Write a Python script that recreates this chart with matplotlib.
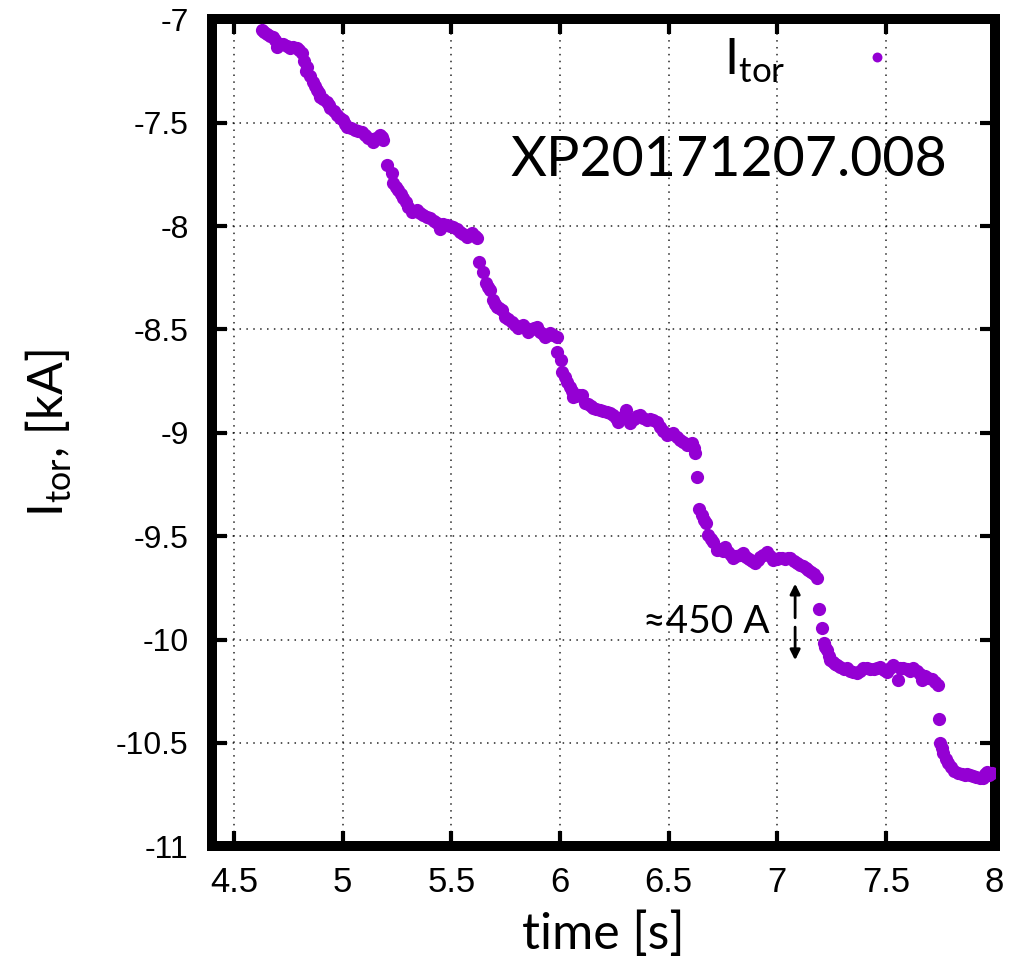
import matplotlib
matplotlib.use("Agg")
import matplotlib.pyplot as plt
from matplotlib import font_manager

# ---------------- data ----------------
time_s = [
    4.627, 4.640, 4.650, 4.665, 4.681, 4.690, 4.699, 4.712, 4.727, 4.742, 4.758, 4.773, 4.789, 4.800,
    4.812, 4.822, 4.831, 4.837, 4.850, 4.865, 4.873, 4.881, 4.889, 4.896, 4.910, 4.927, 4.935, 4.942,
    4.958, 4.973, 4.988, 5.003, 5.011, 5.019, 5.038, 5.057, 5.072, 5.088, 5.103, 5.118, 5.130, 5.141,
    5.155, 5.172, 5.180, 5.187,
    5.205, 5.226, 5.233, 5.245, 5.256, 5.268, 5.279, 5.290, 5.302, 5.318, 5.330, 5.341, 5.356, 5.371,
    5.386, 5.402, 5.418, 5.433, 5.448, 5.463, 5.478, 5.494, 5.509, 5.525, 5.540, 5.555, 5.571, 5.583,
    5.594, 5.607, 5.620,
    5.629, 5.647, 5.660, 5.670, 5.678, 5.691, 5.700, 5.709, 5.720, 5.732, 5.747, 5.762, 5.778, 5.793,
    5.808, 5.820, 5.831, 5.843, 5.854, 5.870, 5.882, 5.893, 5.908, 5.920, 5.931, 5.943, 5.954, 5.970,
    5.985,
    5.988, 6.003, 6.011, 6.021, 6.031, 6.046, 6.055, 6.061, 6.075, 6.088, 6.100, 6.115, 6.130, 6.142,
    6.153, 6.168, 6.184, 6.200, 6.215, 6.230, 6.246, 6.258, 6.269, 6.285, 6.304, 6.322, 6.340, 6.355,
    6.368, 6.384, 6.399, 6.415, 6.430, 6.445, 6.460, 6.475, 6.491, 6.507, 6.522, 6.537, 6.552, 6.568,
    6.583, 6.595, 6.606, 6.615, 6.622,
    6.632, 6.641, 6.652, 6.662, 6.672, 6.683, 6.695, 6.706, 6.721, 6.735, 6.748, 6.760, 6.775, 6.787,
    6.798, 6.812, 6.830, 6.844, 6.858, 6.872, 6.885, 6.898, 6.910, 6.921, 6.936, 6.951, 6.966, 6.982,
    6.998, 7.010, 7.020, 7.035, 7.048, 7.059, 7.075, 7.090, 7.105, 7.118, 7.130, 7.143, 7.155, 7.168,
    7.182,
    7.194, 7.205, 7.213, 7.220, 7.228, 7.236, 7.243, 7.255, 7.266, 7.274, 7.290, 7.305, 7.320, 7.335,
    7.350, 7.366, 7.381, 7.396, 7.412, 7.427, 7.443, 7.458, 7.473, 7.489, 7.504, 7.519, 7.534, 7.557,
    7.565, 7.580, 7.595, 7.611, 7.626, 7.641, 7.656, 7.665, 7.680, 7.695, 7.710, 7.726, 7.741,
    7.746, 7.749, 7.757, 7.764, 7.775, 7.787, 7.800, 7.815, 7.833, 7.848, 7.862, 7.875, 7.887, 7.900,
    7.915, 7.933, 7.945, 7.955, 7.964, 7.975, 7.990,
]
itor_kA = [
    -7.051, -7.062, -7.071, -7.078, -7.084, -7.100, -7.132, -7.120, -7.119, -7.128, -7.140, -7.135, -7.140, -7.150,
    -7.164, -7.200, -7.248, -7.229, -7.275, -7.301, -7.320, -7.342, -7.355, -7.374, -7.385, -7.398, -7.412, -7.430,
    -7.445, -7.462, -7.475, -7.487, -7.505, -7.519, -7.525, -7.535, -7.540, -7.543, -7.560, -7.575, -7.580, -7.592,
    -7.575, -7.559, -7.570, -7.583,
    -7.704, -7.745, -7.793, -7.810, -7.825, -7.845, -7.866, -7.885, -7.906, -7.930, -7.925, -7.922, -7.935, -7.946,
    -7.955, -7.962, -7.975, -7.986, -8.015, -7.990, -7.995, -8.000, -8.003, -8.015, -8.027, -8.040, -8.051, -8.045,
    -8.035, -8.048, -8.059,
    -8.172, -8.221, -8.277, -8.295, -8.309, -8.358, -8.375, -8.390, -8.398, -8.406, -8.438, -8.450, -8.463, -8.480,
    -8.494, -8.488, -8.478, -8.495, -8.511, -8.500, -8.492, -8.487, -8.511, -8.520, -8.535, -8.525, -8.519, -8.528,
    -8.535,
    -8.608, -8.648, -8.704, -8.730, -8.753, -8.777, -8.800, -8.825, -8.822, -8.815, -8.817, -8.857, -8.862, -8.872,
    -8.881, -8.885, -8.890, -8.895, -8.898, -8.905, -8.914, -8.930, -8.946, -8.925, -8.890, -8.954, -8.935, -8.920,
    -8.914, -8.928, -8.938, -8.935, -8.938, -8.950, -8.970, -8.990, -9.011, -9.005, -9.002, -9.020, -9.035, -9.045,
    -9.059, -9.055, -9.051, -9.075, -9.099,
    -9.212, -9.370, -9.398, -9.420, -9.438, -9.494, -9.512, -9.527, -9.567, -9.560, -9.570, -9.551, -9.575, -9.592,
    -9.607, -9.595, -9.590, -9.583, -9.600, -9.612, -9.620, -9.631, -9.615, -9.599, -9.590, -9.575, -9.598, -9.615,
    -9.612, -9.605, -9.607, -9.612, -9.605, -9.607, -9.620, -9.630, -9.640, -9.645, -9.655, -9.664, -9.672, -9.685,
    -9.704,
    -9.854, -9.946, -10.018, -10.035, -10.051, -10.080, -10.099, -10.110, -10.120, -10.123, -10.132, -10.145, -10.139, -10.150,
    -10.158, -10.164, -10.150, -10.140, -10.139, -10.145, -10.142, -10.139, -10.135, -10.148, -10.156, -10.140, -10.123, -10.196,
    -10.140, -10.139, -10.145, -10.150, -10.139, -10.150, -10.165, -10.196, -10.178, -10.188, -10.192, -10.205, -10.220,
    -10.386, -10.502, -10.525, -10.551, -10.578, -10.599, -10.618, -10.635, -10.647, -10.650, -10.655, -10.652, -10.655, -10.660,
    -10.665, -10.672, -10.668, -10.650, -10.640, -10.655, -10.645,
]

x_ticks = [4.5, 5, 5.5, 6, 6.5, 7, 7.5, 8]
x_tick_labels = ["4.5", "5", "5.5", "6", "6.5", "7", "7.5", "8"]
y_ticks = [-7, -7.5, -8, -8.5, -9, -9.5, -10, -10.5, -11]
y_tick_labels = ["-7", "-7.5", "-8", "-8.5", "-9", "-9.5", "-10", "-10.5", "-11"]

shot_label = "XP20171207.008"
step_label = "\u2248450 A"

# ---------------- style ----------------
color = "#9400D3"
names = {f.name for f in font_manager.fontManager.ttflist}
narrow = "Liberation Sans Narrow" if "Liberation Sans Narrow" in names else "Liberation Sans"
calib = "Lato"

W, H = 1009, 965
fig = plt.figure(figsize=(W / 100, H / 100), dpi=100)
ax = fig.add_axes([212.3 / W, 1 - 846.2 / H, (994.6 - 212.3) / W, (846.2 - 19.4) / H])

ax.plot(time_s, itor_kA, linestyle="none", marker="o", markersize=9.5,
        markeredgewidth=0, color=color, label=r"I$_{\mathregular{tor}}$", zorder=3)

ax.set_xlim(4.4, 8.0)
ax.set_ylim(-11, -7)
ax.set_xticks(x_ticks)
ax.set_xticklabels(x_tick_labels, fontfamily=narrow, fontsize=25)
ax.set_yticks(y_ticks)
ax.set_yticklabels(y_tick_labels, fontfamily="Liberation Sans", fontsize=23)

ax.tick_params(axis="both", which="both", direction="in", length=11, width=3,
               top=True, right=True, color="black")
ax.tick_params(axis="y", pad=17)
ax.tick_params(axis="x", pad=14)

for s in ax.spines.values():
    s.set_linewidth(7.2)
    s.set_color("black")

ax.grid(True, color="black", linestyle=(0, (1, 3.5)), linewidth=1.1, alpha=0.85)
ax.set_axisbelow(True)

ax.set_xlabel("time [s]", fontfamily=calib, fontsize=36, labelpad=9)
ax.set_ylabel(r"I$_{\mathregular{tor}}$, [kA]", fontfamily=calib, fontsize=35, labelpad=30)

ax.text(5.770, -7.685, shot_label, fontfamily=calib, fontsize=40, va="center", ha="left")
ax.text(6.967, -9.916, step_label, fontfamily=calib, fontsize=28, va="center", ha="right")

arrow_t = 7.082
ax.annotate("", xy=(arrow_t, -9.73), xytext=(arrow_t, -9.895),
            arrowprops=dict(arrowstyle="-|>,head_length=0.6,head_width=0.3", lw=2, color="black",
                            shrinkA=0, shrinkB=0))
ax.annotate("", xy=(arrow_t, -10.10), xytext=(arrow_t, -9.94),
            arrowprops=dict(arrowstyle="-|>,head_length=0.6,head_width=0.3", lw=2, color="black",
                            shrinkA=0, shrinkB=0))

leg = ax.legend(loc="center right", bbox_to_anchor=(7.53, -7.20), bbox_transform=ax.transData,
                frameon=False, markerfirst=False, handletextpad=1.55, handlelength=0.6,
                markerscale=0.75, prop={"family": calib, "size": 36}, borderpad=0, borderaxespad=0)

fig.savefig("out.png", dpi=100)
